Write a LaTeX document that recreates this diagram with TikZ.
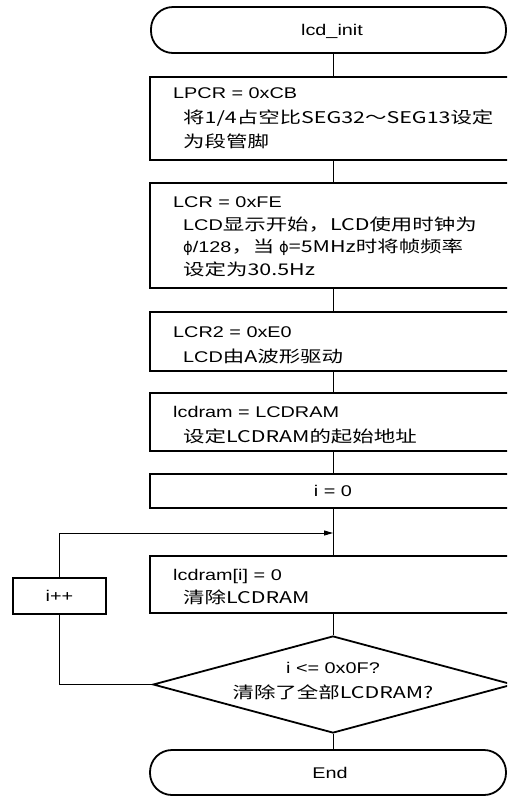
\documentclass[tikz,border=0pt]{standalone}
\usepackage{fontspec}
\setmainfont{Liberation Sans}[FakeStretch=1.28]
\newfontfamily\cjk{Noto Sans CJK SC}[FakeStretch=1.33,Scale=1.04]
\newfontfamily\djv{DejaVu Sans}[Scale=0.95]
\usetikzlibrary{shapes.geometric,arrows.meta}
\begin{document}
\begin{tikzpicture}[x=1pt,y=-1pt,
  every node/.style={font=\fontsize{15.5}{20}\selectfont},
  box/.style={draw,line width=1.8pt,rectangle,inner sep=0pt},
  term/.style={draw,line width=1.8pt,rectangle,rounded corners=22pt,inner sep=0pt},
  dec/.style={draw,line width=1.8pt,diamond,inner sep=0pt},
  txt/.style={inner sep=0pt,anchor=base west},
  ctxt/.style={inner sep=0pt,anchor=base},
  conn/.style={line width=0.9pt},
  arr/.style={line width=0.9pt,-{Triangle[length=9pt,width=5pt]}}]
\useasboundingbox (0,0) rectangle (507,796);
\clip (0,0) rectangle (507,796);
\fill[white] (0,0) rectangle (507,796);
% shapes
\node[term,minimum width=355pt,minimum height=46pt] (start) at (328.5,30) {};
\node[ctxt] (tstart) at (332,35.5) {lcd\_init};
\node[box,minimum width=366pt,minimum height=83pt] (b1) at (333,118.5) {};
\node[box,minimum width=366pt,minimum height=105pt] (b2) at (333,235.5) {};
\node[box,minimum width=366pt,minimum height=59pt] (b3) at (333,341.5) {};
\node[box,minimum width=366pt,minimum height=58pt] (b4) at (333,422) {};
\node[box,minimum width=366pt,minimum height=34pt] (b5) at (333,491) {};
\node[box,minimum width=366pt,minimum height=57pt] (b6) at (333,584.5) {};
\node[box,minimum width=93pt,minimum height=36pt] (inc) at (59.5,596) {};
\node[dec,minimum width=360pt,minimum height=97pt] (dia) at (333,684.5) {};
\node[term,minimum width=356pt,minimum height=45pt] (end) at (328,772.5) {};
% texts
\node[txt] (t1a) at (173,98) {LPCR = 0xCB};
\node[txt] (t1b) at (183,123) {\cjk{将}1/4\cjk{占空比}SEG32\cjk{～}SEG13\cjk{设定}};
\node[txt] (t1c) at (183,147) {\cjk{为段管脚}};
\node[txt] (t2a) at (173,207) {LCR = 0xFE};
\node[txt] (t2b) at (183,230) {LCD\cjk{显示开始，}LCD\cjk{使用时钟为}};
\node[txt] (t2c) at (183,252) {{\djv ϕ}/128\cjk{，当} {\djv ϕ}=5MHz\cjk{时将帧频率}};
\node[txt] (t2d) at (183,275) {\cjk{设定为}30.5Hz};
\node[txt] (t3a) at (173,337) {LCR2 = 0xE0};
\node[txt] (t3b) at (183,362) {LCD\cjk{由}A\cjk{波形驱动}};
\node[txt] (t4a) at (173,417) {lcdram = LCDRAM};
\node[txt] (t4b) at (183,442) {\cjk{设定}LCDRAM\cjk{的起始地址}};
\node[ctxt] (t5) at (333,496.5) {i = 0};
\node[txt] (t6a) at (173,580) {lcdram[i] = 0};
\node[txt] (t6b) at (183,603) {\cjk{清除}LCDRAM};
\node[ctxt] (tinc) at (59.5,601.5) {i++};
\node[ctxt] (td1) at (333,673) {i <= 0x0F?};
\node[ctxt] (td2) at (333,698) {\cjk{清除了全部}LCDRAM?};
\node[ctxt] (tend) at (330,778) {End};
% connectors
\coordinate (join) at (333,533);
\draw[conn] (333,53) -- (b1.north);
\draw[conn] (b1.south) -- (b2.north);
\draw[conn] (b2.south) -- (b3.north);
\draw[conn] (b3.south) -- (b4.north);
\draw[conn] (b4.south) -- (b5.north);
\draw[conn] (b5.south) -- (b6.north);
\draw[conn] (b6.south) -- (dia.north);
\draw[conn] (dia.south) -- (333,750);
\draw[arr] (inc.north) |- (join);
\draw[conn] (dia.west) -| (inc.south);
\end{tikzpicture}
\end{document}
